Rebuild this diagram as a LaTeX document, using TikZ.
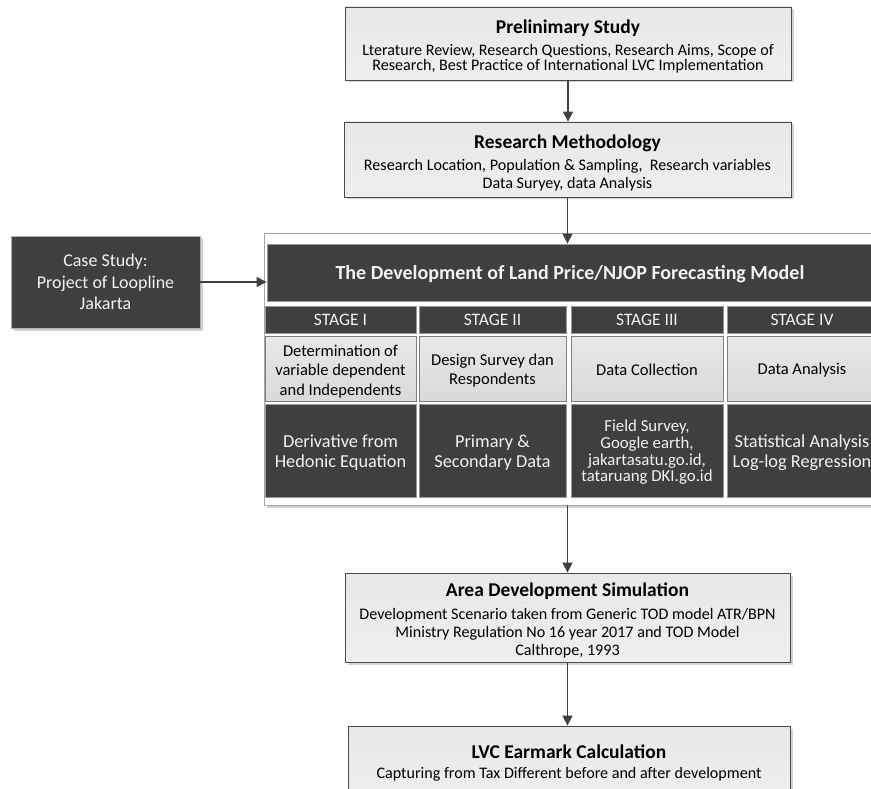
\documentclass[tikz,border=0pt]{standalone}
\usepackage{fontspec}
\setmainfont{Carlito}
\usetikzlibrary{arrows.meta,shadows}
\definecolor{dk}{HTML}{3F3F3F}
\definecolor{lt}{HTML}{D9D9D9}
\definecolor{bd}{HTML}{4A4A4A}
\definecolor{cellbd}{HTML}{7F7F7F}
\definecolor{txtw}{HTML}{F2F2F2}
\definecolor{arr}{HTML}{404040}
\newcommand\ttlfont{\fontsize{19.5}{19.5}\selectfont\bfseries}
\lineskiplimit=-30pt
\begin{document}
\begin{tikzpicture}[x=1pt,y=-1pt,
  shadowed/.style={drop shadow={shadow xshift=2.5pt,shadow yshift=-2.5pt,fill=black!25,opacity=0.7}},
  mainbox/.style={draw=bd, line width=0.8pt, top color=lt!60, bottom color=lt!110!black, shadowed, inner sep=0pt},
  maintxt/.style={align=center, inner sep=0pt, font=\fontsize{16.1}{18}\selectfont},
  darkbox/.style={draw=cellbd!80, line width=0.8pt, fill=dk, inner sep=0pt},
  darktxt/.style={text=txtw, align=center, inner sep=0pt},
  stagebox/.style={darkbox, text=txtw, font=\fontsize{17.5}{17.5}\selectfont},
  cellbox/.style={draw=cellbd, line width=0.8pt, top color=lt!60, bottom color=lt, inner sep=0pt},
  celltxt/.style={align=center, inner sep=0pt, font=\fontsize{16.5}{19.3}\selectfont},
  dattxt/.style={darktxt, font=\fontsize{18.3}{20}\selectfont},
  conn/.style={draw=arr, line width=1.3pt, -{Triangle[width=10pt,length=10pt]}}
]
\useasboundingbox (0,0) rectangle (871,789);
\clip (0,0) rectangle (871,789);

% main flow boxes
\node[mainbox, minimum width=446pt, minimum height=73pt] (prelim) at (568,43.5) {};
\node[maintxt, font=\fontsize{16.1}{14.8}\selectfont] (prelimt) at ([yshift=-3pt]prelim.center)
  {{\ttlfont Prelinimary Study}\\[7.5pt]
   Lterature Review, Research Questions, Research Aims, Scope of\\
   Research, Best Practice of International LVC Implementation};
\node[mainbox, minimum width=447pt, minimum height=75pt] (rm) at (567.5,159.5) {};
\node[maintxt] (rmt) at ([yshift=-3.5pt]rm.center)
  {{\ttlfont Research Methodology}\\[4pt]
   Research Location, Population \& Sampling,\ \ Research variables\\
   Data Suryey, data Analysis};

% container
\node[draw=gray!70, line width=0.8pt, fill=white, shadowed, minimum width=616pt, minimum height=272pt, inner sep=0pt] (cont) at (572,369) {};

\node[darkbox, minimum width=606pt, minimum height=57pt] (title) at (570,272.5) {};
\node[darktxt, font=\fontsize{20}{20}\selectfont\bfseries] (titlet) at ([yshift=-1.5pt]title.center)
  {The Development of Land Price/NJOP Forecasting Model};

% case study
\node[darkbox, draw=gray!60, minimum width=189pt, minimum height=92pt, shadowed] (case) at (105.5,282) {};
\node[darktxt, font=\fontsize{18}{21.7}\selectfont] (caset) at (case.center)
  {Case Study:\\ Project of Loopline\\ Jakarta};

% stage headers
\node[stagebox, minimum width=151pt, minimum height=27pt] (s1) at (340.5,319.5) {STAGE I};
\node[stagebox, minimum width=147pt, minimum height=27pt] (s2) at (492.5,319.5) {STAGE II};
\node[stagebox, minimum width=152pt, minimum height=27pt] (s3) at (647,319.5) {STAGE III};
\node[stagebox, minimum width=150pt, minimum height=27pt] (s4) at (802,319.5) {STAGE IV};

% light cells
\node[cellbox, minimum width=151pt, minimum height=65pt] (c1) at (340.5,368.5) {};
\node[cellbox, minimum width=147pt, minimum height=65pt] (c2) at (492.5,368.5) {};
\node[cellbox, minimum width=152pt, minimum height=65pt] (c3) at (647,368.5) {};
\node[cellbox, minimum width=150pt, minimum height=65pt] (c4) at (802,368.5) {};
\node[celltxt] (c1t) at ([yshift=-3pt]c1.center) {Determination of\\ variable dependent\\ and Independents};
\node[celltxt] (c2t) at ([yshift=-2pt]c2.center) {Design Survey dan\\ Respondents};
\node[celltxt] (c3t) at ([yshift=-1.5pt]c3.center) {Data Collection};
\node[celltxt] (c4t) at ([yshift=-1.5pt]c4.center) {Data Analysis};

% dark data cells
\node[darkbox, minimum width=151pt, minimum height=93pt] (d1) at (340.5,450.5) {};
\node[darkbox, minimum width=147pt, minimum height=93pt] (d2) at (492.5,450.5) {};
\node[darkbox, minimum width=152pt, minimum height=93pt] (d3) at (647,450.5) {};
\node[darkbox, minimum width=150pt, minimum height=93pt] (d4) at (802,450.5) {};
\node[dattxt] (d1t) at ([yshift=-2pt]d1.center) {Derivative from\\ Hedonic Equation};
\node[dattxt] (d2t) at ([yshift=-2pt]d2.center) {Primary \&\\ Secondary Data};
\node[darktxt, font=\fontsize{16.8}{16.7}\selectfont] (d3t) at ([yshift=-2pt]d3.center)
  {Field Survey,\\ Google earth,\\ jakartasatu.go.id,\\ tataruang DKI.go.id};
\node[dattxt] (d4t) at ([yshift=-2pt]d4.center) {Statistical Analysis\\ Log-log Regression};

% lower boxes
\node[mainbox, minimum width=445pt, minimum height=89pt] (ads) at (567.5,617.5) {};
\node[maintxt] (adst) at ([yshift=-3pt]ads.center)
  {{\ttlfont Area Development Simulation}\\[5pt]
   Development Scenario taken from Generic TOD model ATR/BPN\\
   Ministry Regulation No 16 year 2017 and TOD Model\\
   Calthrope, 1993};
\node[mainbox, minimum width=442pt, minimum height=74pt] (lvc) at (569,763) {};
\node[maintxt] (lvct) at (lvc.center)
  {{\ttlfont LVC Earmark Calculation}\\[2pt]
   Capturing from Tax Different before and after development};

% connectors
\draw[conn] (prelim.south) -- (prelim.south |- rm.north);
\draw[conn] (rm.south) -- (rm.south |- title.north);
\draw[conn] (case.east) -- (case.east -| title.west);
\draw[conn] (ads.north |- cont.south) -- (ads.north);
\draw[conn] (ads.south) -- (ads.south |- lvc.north);
\end{tikzpicture}
\end{document}
